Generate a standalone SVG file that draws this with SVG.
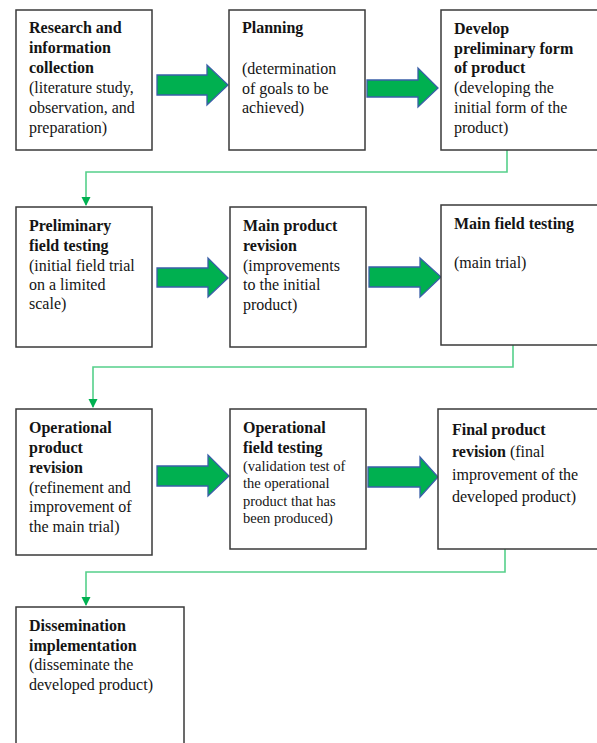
<svg xmlns="http://www.w3.org/2000/svg" width="597" height="743" viewBox="0 0 597 743">
<style>
.box{fill:#fff;stroke:#3a3a3a;stroke-width:1.5}
.arr{fill:#00B050;stroke:#3A5FA8;stroke-width:1.3;stroke-linejoin:miter}
.con{fill:none;stroke:#55D08A;stroke-width:1.6}
text{font-family:"Liberation Serif","Times New Roman",serif;font-size:16px;fill:#141414}
.b{font-weight:bold}
.s{font-size:14.5px}
</style>
<defs>
<marker id="ah" markerWidth="10" markerHeight="10" refX="8" refY="5" orient="auto" markerUnits="userSpaceOnUse">
<path d="M0,0.5 L9,5 L0,9.5 Z" fill="#00B050"/>
</marker>
</defs>
<rect width="597" height="743" fill="#fff"/>
<g id="connectors">
<polyline class="con" points="507,150 507,172 86,172 86,205" marker-end="url(#ah)"/>
<polyline class="con" points="513,345 513,367 93,367 93,407" marker-end="url(#ah)"/>
<polyline class="con" points="505,549 505,572 86,572 86,605" marker-end="url(#ah)"/>
<path class="arr" d="M157,75 H207 V65 L228,85 L207,105 V95 H157 Z"/>
<path class="arr" d="M367,80 H418 V68 L438,88 L418,107 V97 H367 Z"/>
<path class="arr" d="M157,268 H208 V258 L228,278 L208,297 V287 H157 Z"/>
<path class="arr" d="M369,267 H420 V258 L441,277 L420,297 V287 H369 Z"/>
<path class="arr" d="M157,466 H208 V455 L229,476 L208,496 V486 H157 Z"/>
<path class="arr" d="M368,467 H420 V457 L438,477 L420,497 V487 H368 Z"/>
</g>
<g id="n1">
<rect class="box" x="16" y="10" width="136" height="140"/>
<text x="29" y="33" class="b">Research and</text>
<text x="29" y="53" class="b">information</text>
<text x="29" y="73" class="b">collection</text>
<text x="29" y="93">(literature study,</text>
<text x="29" y="113">observation, and</text>
<text x="29" y="133">preparation)</text>
</g>
<g id="n2">
<rect class="box" x="229" y="10" width="136" height="140"/>
<text x="242" y="33" class="b">Planning</text>
<text x="242" y="74">(determination</text>
<text x="242" y="94">of goals to be</text>
<text x="242" y="113">achieved)</text>
</g>
<g id="n3">
<rect class="box" x="441" y="10" width="170" height="140"/>
<text x="454" y="34" class="b">Develop</text>
<text x="454" y="54" class="b">preliminary form</text>
<text x="454" y="73" class="b">of product</text>
<text x="454" y="93">(developing the</text>
<text x="454" y="113">initial form of the</text>
<text x="454" y="133">product)</text>
</g>
<g id="n4">
<rect class="box" x="16" y="207" width="136" height="140"/>
<text x="29" y="231" class="b">Preliminary</text>
<text x="29" y="251" class="b">field testing</text>
<text x="29" y="271">(initial field trial</text>
<text x="29" y="290">on a limited</text>
<text x="29" y="309">scale)</text>
</g>
<g id="n5">
<rect class="box" x="230" y="207" width="136" height="140"/>
<text x="243" y="231" class="b">Main product</text>
<text x="243" y="251" class="b">revision</text>
<text x="243" y="271">(improvements</text>
<text x="243" y="290">to the initial</text>
<text x="243" y="310">product)</text>
</g>
<g id="n6">
<rect class="box" x="441" y="205" width="170" height="140"/>
<text x="454" y="229" class="b">Main field testing</text>
<text x="454" y="268">(main trial)</text>
</g>
<g id="n7">
<rect class="box" x="16" y="409" width="136" height="146"/>
<text x="29" y="433" class="b">Operational</text>
<text x="29" y="453" class="b">product</text>
<text x="29" y="473" class="b">revision</text>
<text x="29" y="493">(refinement and</text>
<text x="29" y="512">improvement of</text>
<text x="29" y="532">the main trial)</text>
</g>
<g id="n8">
<rect class="box" x="230" y="409" width="136" height="140"/>
<text x="243" y="433" class="b">Operational</text>
<text x="243" y="453" class="b">field testing</text>
<text x="243" y="471" class="s">(validation test of</text>
<text x="243" y="488" class="s">the operational</text>
<text x="243" y="506" class="s">product that has</text>
<text x="243" y="523" class="s">been produced)</text>
</g>
<g id="n9">
<rect class="box" x="438" y="409" width="170" height="140"/>
<text x="452" y="435" class="b">Final product</text>
<text x="452" y="457"><tspan class="b">revision</tspan> (final</text>
<text x="452" y="480">improvement of the</text>
<text x="452" y="502">developed product)</text>
</g>
<g id="n10">
<rect class="box" x="16" y="607" width="168" height="150"/>
<text x="29" y="631" class="b">Dissemination</text>
<text x="29" y="651" class="b">implementation</text>
<text x="29" y="670">(disseminate the</text>
<text x="29" y="690">developed product)</text>
</g>
</svg>
